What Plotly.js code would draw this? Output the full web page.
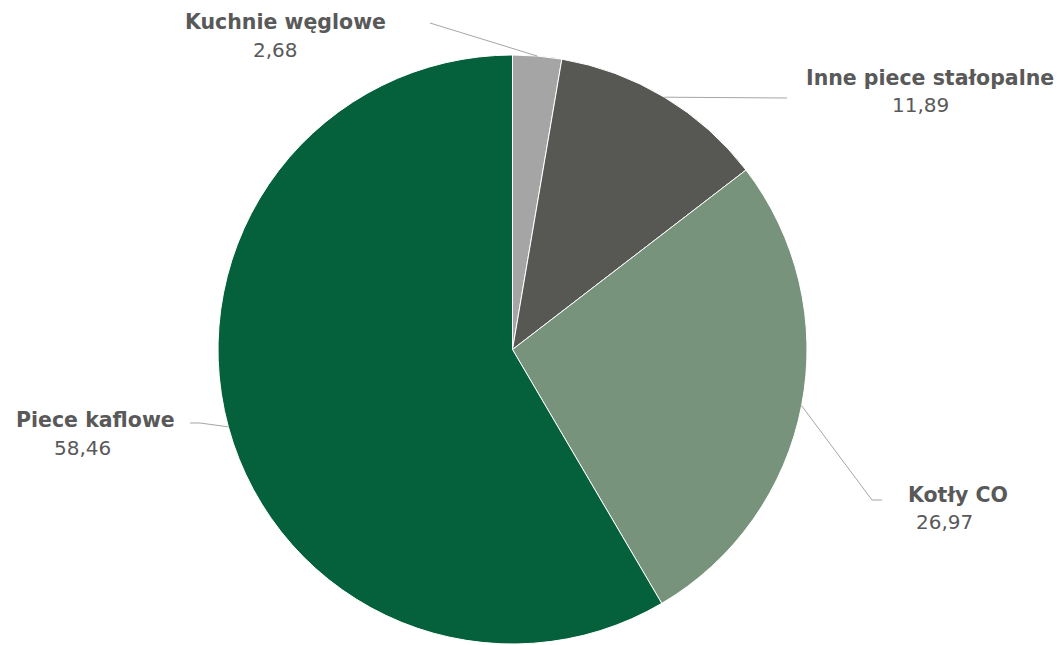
<!DOCTYPE html>
<html>
<head>
<meta charset="utf-8">
<script src="https://cdn.plot.ly/plotly-3.0.1.min.js"></script>
<style>html,body{margin:0;padding:0;background:#fff;}#chart{width:1061px;height:645px;}</style>
</head>
<body>
<div id="chart"></div>
<script>
const categories = ["Kuchnie węglowe", "Inne piece stałopalne", "Kotły CO", "Piece kaflowe"];
const values = [2.68, 11.89, 26.97, 58.46];
const valueLabels = ["2,68", "11,89", "26,97", "58,46"];
const colors = ["#A5A5A5", "#575754", "#77937B", "#05603C"];

const W = 1061, H = 645;
// pie geometry in pixels (layout)
const cx = 512.5, cy = 349.5, R = 294.5;
const px = x => x / W;
const py = y => 1 - y / H;

// label placement (layout): title centre, value centre, leader-line points near label
const labelPos = [
  {t: [285, 22], v: [275, 50], line: [[430, 23]]},
  {t: [930, 78], v: [920, 105], line: [[787, 98]]},
  {t: [958, 495], v: [944, 522], line: [[882, 500], [872, 500]]},
  {t: [95, 420], v: [82, 448], line: [[190, 423], [200, 423]]}
];

const FONT = "DejaVu Sans, Verdana, sans-serif";
const total = values.reduce((a, b) => a + b, 0);
let cum = 0;
const annotations = [];
const shapes = [];
values.forEach((v, i) => {
  const mid = (cum + v / 2) / total * 2 * Math.PI;
  cum += v;
  const ex = cx + R * Math.sin(mid);
  const ey = cy - R * Math.cos(mid);
  const pts = labelPos[i].line.concat([[ex, ey]]);
  let path = "M " + px(pts[0][0]) + "," + py(pts[0][1]);
  for (let k = 1; k < pts.length; k++) path += " L " + px(pts[k][0]) + "," + py(pts[k][1]);
  shapes.push({type: "path", xref: "paper", yref: "paper", path: path,
    line: {color: "#A6A6A6", width: 1}});
  annotations.push({
    xref: "paper", yref: "paper", x: px(labelPos[i].t[0]), y: py(labelPos[i].t[1]),
    xanchor: "center", yanchor: "middle", showarrow: false,
    text: "<b>" + categories[i] + "</b>",
    font: {family: FONT, size: 20.5, color: "#595959"}
  });
  annotations.push({
    xref: "paper", yref: "paper", x: px(labelPos[i].v[0]), y: py(labelPos[i].v[1]),
    xanchor: "center", yanchor: "middle", showarrow: false,
    text: valueLabels[i],
    font: {family: FONT, size: 20, color: "#595959"}
  });
});

const trace = {
  type: "pie",
  labels: categories,
  values: values,
  sort: false,
  direction: "clockwise",
  rotation: 0,
  textinfo: "none",
  hoverinfo: "label+value",
  marker: {colors: colors, line: {color: "#FFFFFF", width: 1}},
  domain: {x: [px(cx - R), px(cx + R)], y: [py(cy + R), py(cy - R)]},
  showlegend: false
};

const layout = {
  width: W, height: H,
  margin: {l: 0, r: 0, t: 0, b: 0},
  paper_bgcolor: "#FFFFFF",
  plot_bgcolor: "#FFFFFF",
  showlegend: false,
  annotations: annotations,
  shapes: shapes
};

Plotly.newPlot("chart", [trace], layout, {displayModeBar: false, staticPlot: true});
</script>
</body>
</html>
